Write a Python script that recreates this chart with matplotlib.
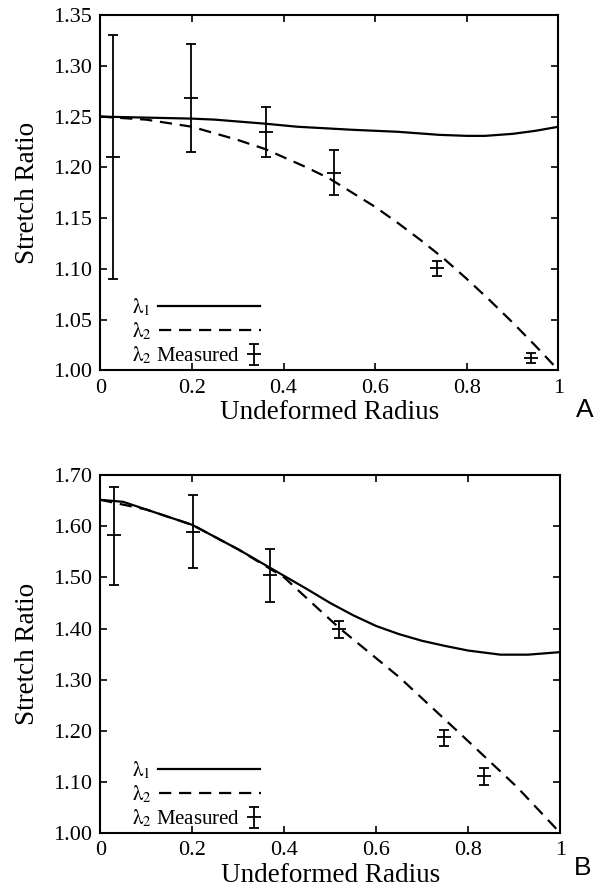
import matplotlib
matplotlib.use("Agg")
import matplotlib.pyplot as plt
from matplotlib.legend_handler import HandlerErrorbar

# ── Panel A data ────────────────────────────────────────────────────────────
a_lam1_x = [0, 0.1, 0.2, 0.25, 0.36, 0.43, 0.55, 0.65, 0.74, 0.8, 0.84, 0.9, 0.95, 1.0]
a_lam1_y = [1.250, 1.249, 1.248, 1.247, 1.243, 1.240, 1.237, 1.235, 1.232, 1.231,
            1.231, 1.233, 1.236, 1.240]
a_lam2_x = [0, 0.1, 0.2, 0.3, 0.36, 0.45, 0.5, 0.55, 0.6, 0.65, 0.7, 0.75, 0.8,
            0.85, 0.9, 0.95, 1.0]
a_lam2_y = [1.250, 1.247, 1.240, 1.227, 1.218, 1.200, 1.189, 1.175, 1.161, 1.145,
            1.128, 1.110, 1.090, 1.069, 1.047, 1.024, 1.000]
a_meas_x = [0.028, 0.199, 0.362, 0.510, 0.735, 0.939]
a_meas_y = [1.210, 1.268, 1.235, 1.194, 1.101, 1.012]
a_meas_lo = [0.120, 0.053, 0.025, 0.021, 0.008, 0.005]
a_meas_hi = [0.120, 0.054, 0.024, 0.023, 0.007, 0.005]
a_yticks = [1.00, 1.05, 1.10, 1.15, 1.20, 1.25, 1.30, 1.35]
a_ylabels = ["1.00", "1.05", "1.10", "1.15", "1.20", "1.25", "1.30", "1.35"]

# ── Panel B data ────────────────────────────────────────────────────────────
b_lam1_x = [0, 0.05, 0.1, 0.2, 0.3, 0.4, 0.45, 0.5, 0.55, 0.6, 0.65, 0.7, 0.75,
            0.8, 0.87, 0.93, 1.0]
b_lam1_y = [1.652, 1.648, 1.633, 1.603, 1.555, 1.503, 1.477, 1.450, 1.426, 1.405,
            1.389, 1.376, 1.366, 1.357, 1.349, 1.349, 1.354]
b_lam2_x = [0, 0.1, 0.2, 0.3, 0.4, 0.47, 0.52, 0.65, 0.79, 0.906, 1.0]
b_lam2_y = [1.652, 1.633, 1.603, 1.555, 1.500, 1.442, 1.401, 1.305, 1.188, 1.090, 1.000]
b_meas_x = [0.029, 0.202, 0.368, 0.518, 0.748, 0.835]
b_meas_y = [1.583, 1.589, 1.504, 1.400, 1.187, 1.111]
b_meas_lo = [0.098, 0.071, 0.052, 0.019, 0.016, 0.017]
b_meas_hi = [0.094, 0.072, 0.051, 0.015, 0.015, 0.016]
b_yticks = [1.00, 1.10, 1.20, 1.30, 1.40, 1.50, 1.60, 1.70]
b_ylabels = ["1.00", "1.10", "1.20", "1.30", "1.40", "1.50", "1.60", "1.70"]

x_ticks = [0, 0.2, 0.4, 0.6, 0.8, 1.0]
x_labels = ["0", "0.2", "0.4", "0.6", "0.8", "1"]

plt.rcParams["font.family"] = "serif"
plt.rcParams["font.serif"] = ["Liberation Serif", "DejaVu Serif"]
plt.rcParams["mathtext.fontset"] = "stix"


class LeftErrorbar(HandlerErrorbar):
    # put the errorbar sample at the left end of the handle box
    def get_xdata(self, legend, xdescent, ydescent, width, height, fontsize):
        xdata, _ = super().get_xdata(legend, xdescent, ydescent, width, height, fontsize)
        return xdata, [-xdescent + 0.06 * width]


fig = plt.figure(figsize=(6.11, 8.90), dpi=100)
ax_a = fig.add_axes([0.164, 0.584, 0.750, 0.399])
ax_b = fig.add_axes([0.164, 0.064, 0.753, 0.402])


def draw_panel(ax, l1x, l1y, l2x, l2y, mx, my, mlo, mhi, yt, ylab, ylim):
    ax.plot(l1x, l1y, color="black", lw=1.6, label=r"$\mathrm{\lambda}_1$")
    ax.plot(l2x, l2y, color="black", lw=1.6, dashes=(5.5, 3.5),
            label=r"$\mathrm{\lambda}_2$")
    eb = ax.errorbar(mx, my, yerr=[mlo, mhi], fmt="_", color="black", ms=10,
                     mew=1.3, elinewidth=1.3, capsize=3.5, capthick=1.3,
                     label=r"$\mathrm{\lambda}_2$ Measured")
    ax.set_xlim(0, 1)
    ax.set_ylim(*ylim)
    ax.set_xticks(x_ticks)
    ax.set_xticklabels(x_labels)
    ax.set_yticks(yt)
    ax.set_yticklabels(ylab)
    ax.tick_params(direction="in", top=True, right=True, length=5, width=1.2,
                   labelsize=16, pad=6)
    for sp in ax.spines.values():
        sp.set_linewidth(1.5)
    ax.set_xlabel("Undeformed Radius", fontsize=19.5, labelpad=2)
    ax.set_ylabel("Stretch Ratio", fontsize=19.5, labelpad=9)
    leg = ax.legend(loc="lower left", bbox_to_anchor=(0.043, -0.025), frameon=False,
                    markerfirst=False, fontsize=15, handlelength=4.9,
                    handletextpad=0.35, labelspacing=0.12, borderaxespad=0.2,
                    handler_map={eb: LeftErrorbar(numpoints=1)})
    for col in leg._legend_handle_box.get_children():
        col.align = "left"


draw_panel(ax_a, a_lam1_x, a_lam1_y, a_lam2_x, a_lam2_y, a_meas_x, a_meas_y,
           a_meas_lo, a_meas_hi, a_yticks, a_ylabels, (1.0, 1.35))
draw_panel(ax_b, b_lam1_x, b_lam1_y, b_lam2_x, b_lam2_y, b_meas_x, b_meas_y,
           b_meas_lo, b_meas_hi, b_yticks, b_ylabels, (1.0, 1.70))

fig.text(0.957, 0.539, "A", fontsize=19, family="Liberation Sans",
         ha="center", va="center")
fig.text(0.954, 0.025, "B", fontsize=19, family="Liberation Sans",
         ha="center", va="center")

fig.savefig("out.png", dpi=100)
